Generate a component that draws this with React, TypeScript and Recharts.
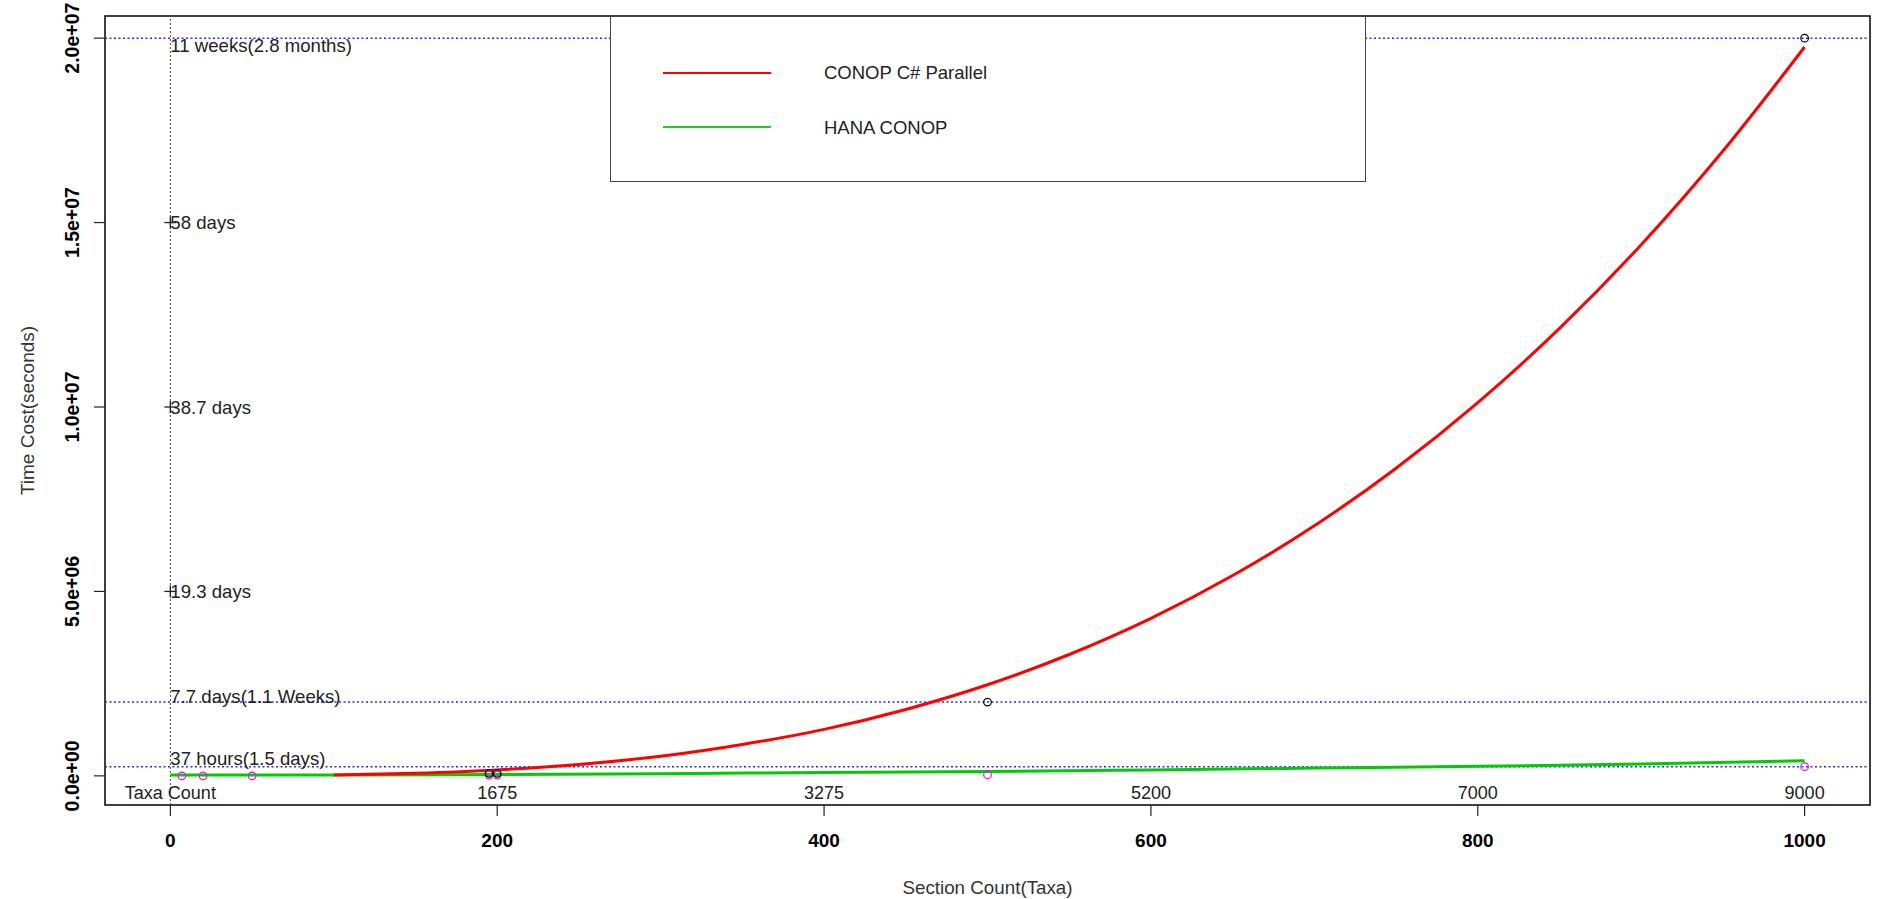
import React from 'react';
import {
  ComposedChart,
  Line,
  Scatter,
  XAxis,
  YAxis,
  ReferenceLine,
  ReferenceArea,
  Legend,
} from 'recharts';

// section count ticks and the taxa count written above each one
const sectionTicks = [0, 200, 400, 600, 800, 1000];
const taxaLabels = ['Taxa Count', '1675', '3275', '5200', '7000', '9000'];

const timeTicks = [0, 5e6, 1e7, 1.5e7, 2e7];
const timeTickLabels = ['0.0e+00', '5.0e+06', '1.0e+07', '1.5e+07', '2.0e+07'];

// CONOP C# Parallel curve (seconds)
const conopX = [100, 150, 200, 250, 300, 350, 400, 450, 500, 550, 600, 650, 700, 750, 800, 850, 900, 950, 1000];
const conopY = [
  20000, 70000, 160000, 310000, 530000, 850000, 1260000, 1800000, 2470000, 3290000,
  4270000, 5430000, 6780000, 8340000, 10120000, 12130000, 14400000, 16940000, 19760000,
];

// HANA CONOP curve (seconds)
const hanaX = [0, 100, 200, 300, 400, 500, 600, 700, 800, 900, 1000];
const hanaY = [20000, 25000, 35000, 60000, 90000, 120000, 160000, 210000, 260000, 320000, 410000];

// measured points
const conopPointX = [195, 200, 500, 1000];
const conopPointY = [70000, 70000, 2000000, 20000000];
const hanaPointX = [7, 20, 50, 195, 200, 500, 1000];
const hanaPointY = [0, 0, 0, 20000, 20000, 30000, 250000];

// blue guide lines and the notes on the x = 0 line
const guideValues = [250000, 2000000, 20000000];
const noteLabels = ['11 weeks(2.8 months)', '58 days', '38.7 days', '19.3 days', '7.7 days(1.1 Weeks)', '37 hours(1.5 days)'];
const noteValues = [2e7, 1.5e7, 1e7, 5e6, 2e6, 2.5e5];
const noteShift = [7, 0, 0, 0, -6, -8];
const crossValues = [1.5e7, 1e7, 5e6];

const FONT = '"Liberation Sans", Arial, sans-serif';

const conopData = conopX.map((x, i) => ({ x, y: conopY[i] }));
const hanaData = hanaX.map((x, i) => ({ x, y: hanaY[i] }));
const conopPoints = conopPointX.map((x, i) => ({ x, y: conopPointY[i] }));
const hanaPoints = hanaPointX.map((x, i) => ({ x, y: hanaPointY[i] }));
const notes = noteValues.map((y, i) => ({ x: 0, y, label: noteLabels[i], shift: noteShift[i] }));
const crosses = crossValues.map((y) => ({ x: 0, y }));

const XTick = (props: any) => {
  const { x, y, payload } = props;
  const i = sectionTicks.indexOf(payload.value);
  return (
    <g fontFamily={FONT}>
      <text x={x} y={y + 30.5} textAnchor="middle" fontWeight="bold" fontSize={19} fill="#000">
        {payload.value}
      </text>
      <text x={x} y={y - 17} textAnchor="middle" fontSize={18} fill="#222">
        {taxaLabels[i]}
      </text>
    </g>
  );
};

const YTick = (props: any) => {
  const { x, y, payload } = props;
  const i = timeTicks.indexOf(payload.value);
  const cx = x - 22;
  return (
    <text
      x={cx}
      y={y}
      dy="0.35em"
      textAnchor="middle"
      transform={`rotate(-90, ${cx}, ${y})`}
      fontFamily={FONT}
      fontSize={19.5}
      fontWeight="bold"
      fill="#000"
    >
      {timeTickLabels[i]}
    </text>
  );
};

const ring = (color: string) => (props: any) => (
  <circle cx={props.cx} cy={props.cy} r={3.8} fill="none" stroke={color} strokeWidth={1.2} />
);

const NoteShape = (props: any) => {
  const p = props.payload || props;
  return (
    <text x={props.cx} y={props.cy + p.shift + 6.6} fontFamily={FONT} fontSize={18.6} fill="#222">
      {p.label}
    </text>
  );
};

const CrossShape = (props: any) => (
  <g stroke="#222" strokeWidth={1.3}>
    <line x1={props.cx - 6} x2={props.cx + 6} y1={props.cy} y2={props.cy} />
    <line x1={props.cx} x2={props.cx} y1={props.cy - 6} y2={props.cy + 6} />
  </g>
);

const LegendBox = () => (
  <div
    style={{
      position: 'relative',
      width: 756,
      height: 166,
      boxSizing: 'border-box',
      border: '1.5px solid #444',
      background: '#fff',
      fontFamily: FONT,
      fontSize: 18.5,
      color: '#222',
    }}
  >
    <div style={{ position: 'absolute', left: 52, top: 55, width: 108, height: 1.5, background: '#ff0000' }} />
    <div style={{ position: 'absolute', left: 213, top: 45, lineHeight: '22px' }}>CONOP C# Parallel</div>
    <div style={{ position: 'absolute', left: 52, top: 109, width: 108, height: 1.5, background: '#1fcc1f' }} />
    <div style={{ position: 'absolute', left: 213, top: 100, lineHeight: '22px' }}>HANA CONOP</div>
  </div>
);

export default function App() {
  return (
    <div style={{ position: 'absolute', left: 0, top: 0, background: '#fff' }}>
      <ComposedChart width={1883} height={899} margin={{ top: 16, right: 13, bottom: 5, left: 6 }}>
        <XAxis
          type="number"
          dataKey="x"
          domain={[-40, 1040]}
          allowDataOverflow
          ticks={sectionTicks}
          interval={0}
          tick={<XTick />}
          tickSize={11}
          tickMargin={0}
          tickLine={{ stroke: '#222', strokeWidth: 1.2 }}
          axisLine={false}
          height={89}
          label={{
            value: 'Section Count(Taxa)',
            position: 'insideBottom',
            offset: 0,
            fontFamily: FONT,
            fontSize: 18.8,
            fill: '#333',
          }}
        />
        <YAxis
          type="number"
          dataKey="y"
          domain={[-790000, 20600000]}
          allowDataOverflow
          ticks={timeTicks}
          interval={0}
          tick={<YTick />}
          tickSize={11}
          tickMargin={0}
          tickLine={{ stroke: '#222', strokeWidth: 1.2 }}
          axisLine={false}
          width={99}
          label={{
            content: (p: any) => {
              const vb = p.viewBox;
              const cx = vb.x + 21;
              const cy = vb.y + vb.height / 2;
              return (
                <text
                  x={cx}
                  y={cy}
                  dy="0.35em"
                  textAnchor="middle"
                  transform={`rotate(-90, ${cx}, ${cy})`}
                  fontFamily={FONT}
                  fontSize={19}
                  fill="#333"
                >
                  Time Cost(seconds)
                </text>
              );
            },
          }}
        />
        <ReferenceArea
          x1={-40}
          x2={1040}
          y1={-790000}
          y2={20600000}
          fill="none"
          stroke="#000"
          strokeWidth={1.5}
          ifOverflow="visible"
        />
        <ReferenceLine x={0} stroke="#444" strokeWidth={1} strokeDasharray="2 2" />
        {guideValues.map((v) => (
          <ReferenceLine key={v} y={v} stroke="#2a2aff" strokeWidth={1.5} strokeDasharray="2 2.5" />
        ))}
        <Line
          data={hanaData}
          dataKey="y"
          type="monotone"
          stroke="#00cc00"
          strokeWidth={3}
          dot={false}
          isAnimationActive={false}
          legendType="none"
        />
        <Line
          data={conopData}
          dataKey="y"
          type="monotone"
          stroke="#ff0000"
          strokeWidth={3}
          dot={false}
          isAnimationActive={false}
          legendType="none"
        />
        <Scatter data={hanaPoints} dataKey="y" shape={ring('#ff00ff')} isAnimationActive={false} legendType="none" />
        <Scatter data={conopPoints} dataKey="y" shape={ring('#000')} isAnimationActive={false} legendType="none" />
        <Scatter data={crosses} dataKey="y" shape={<CrossShape />} isAnimationActive={false} legendType="none" />
        <Scatter data={notes} dataKey="y" shape={<NoteShape />} isAnimationActive={false} legendType="none" />
        <Legend
          layout="horizontal"
          verticalAlign="middle"
          align="center"
          width={756}
          height={166}
          wrapperStyle={{ left: 610, top: 16, width: 756, height: 166 }}
          content={() => <LegendBox />}
        />
      </ComposedChart>
    </div>
  );
}
